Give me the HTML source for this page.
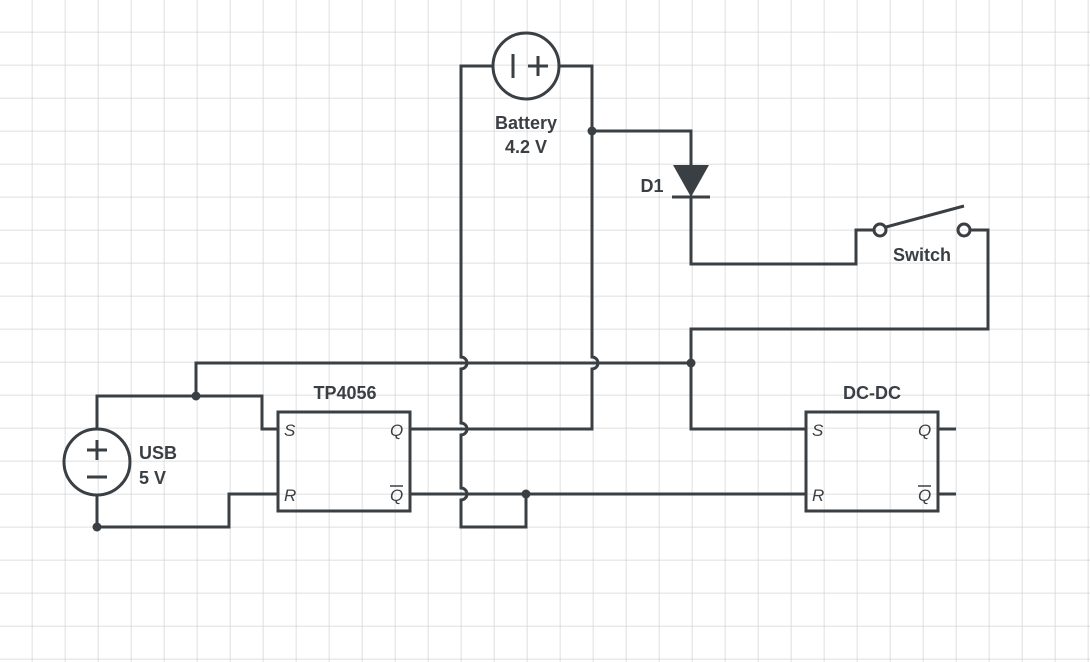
<!DOCTYPE html>
<html><head><meta charset="utf-8"><style>
html,body{margin:0;padding:0;background:#fff;}
svg{display:block;}
text{font-family:"Liberation Sans",Arial,sans-serif;font-weight:bold;font-size:18px;fill:#3a3f44;}
.it{font-style:italic;font-weight:normal;font-size:17px;}
</style></head><body>
<svg width="1090" height="662" viewBox="0 0 1090 662" xmlns="http://www.w3.org/2000/svg">
<defs><pattern id="g" x="-0.5" y="-0.5" width="33" height="33" patternUnits="userSpaceOnUse">
<path d="M33 0V33M0 33H33" stroke="#d4d4d4" stroke-width="1.5" fill="none"/></pattern></defs>
<rect width="1090" height="662" fill="url(#g)"/>
<g stroke="#3a3f44" stroke-width="3" fill="none">
<!-- USB -->
<circle cx="97" cy="462" r="33"/>
<path d="M97 440v20M87 450h20M87 477h20"/>
<path d="M97 429V396H262V429H278"/>
<path d="M97 495V527H229V494H278"/>
<path d="M196 396V363H691"/>
<!-- TP4056 -->
<rect x="278" y="412" width="132" height="99"/>
<path d="M410 429H592V369a6 6 0 0 0 0 -12V66H559"/>
<path d="M410 494H806"/>
<path d="M526 494V527H461V500a6 6 0 0 0 0 -12V435a6 6 0 0 0 0 -12V369a6 6 0 0 0 0 -12V66H493"/>
<circle cx="526" cy="66" r="33"/>
<path d="M513 54v24M528 66h20M538 56v20"/>
<!-- diode -->
<path d="M592 131H691V165M691 197V264H856V230H874"/>
<path d="M672 197H710"/>
<circle cx="880" cy="230" r="6"/>
<circle cx="964" cy="230" r="6"/>
<path d="M886 227L964 206"/>
<path d="M970 230H988V329H691V429H806"/>
<!-- DC-DC -->
<rect x="806" y="412" width="132" height="99"/>
<path d="M938 429H956M938 494H956"/>
</g>
<polygon points="673,165 709,165 691,197" fill="#3a3f44"/>
<g fill="#3a3f44">
<circle cx="196" cy="396" r="4.5"/><circle cx="97" cy="527" r="4.5"/>
<circle cx="691" cy="363" r="4.5"/><circle cx="526" cy="494" r="4.5"/>
<circle cx="592" cy="131" r="4.5"/>
</g>
<text x="345" y="399" text-anchor="middle">TP4056</text>
<text x="872" y="399" text-anchor="middle">DC-DC</text>
<text x="526" y="129" text-anchor="middle">Battery</text>
<text x="526" y="153" text-anchor="middle">4.2 V</text>
<text x="652" y="192" text-anchor="middle">D1</text>
<text x="922" y="261" text-anchor="middle">Switch</text>
<text x="139" y="459">USB</text>
<text x="139" y="484">5 V</text>
<text class="it" x="284" y="436">S</text>
<text class="it" x="284" y="501">R</text>
<text class="it" x="390" y="436">Q</text>
<text class="it" x="390" y="501">Q</text>
<path d="M390 486H403" stroke="#3a3f44" stroke-width="1.5"/>
<text class="it" x="812" y="436">S</text>
<text class="it" x="812" y="501">R</text>
<text class="it" x="918" y="436">Q</text>
<text class="it" x="918" y="501">Q</text>
<path d="M918 486H931" stroke="#3a3f44" stroke-width="1.5"/>
</svg>
</body></html>
